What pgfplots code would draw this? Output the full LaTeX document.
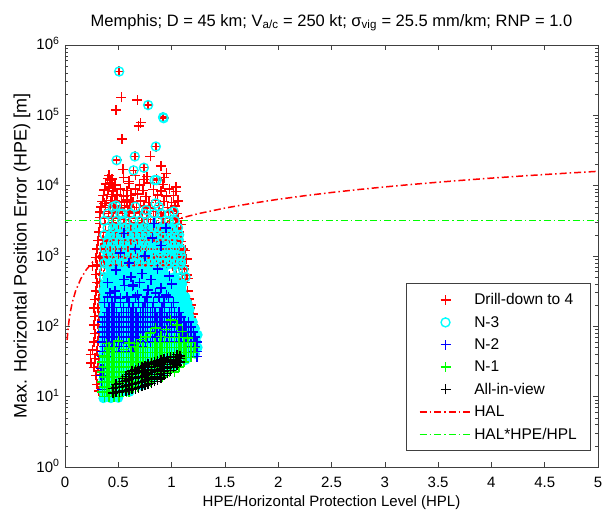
\documentclass[border=0pt]{standalone}
\usepackage{fontspec}
\setmainfont{Liberation Sans}
\usepackage{pgfplots}
\pgfplotsset{compat=1.18}
\definecolor{mred}{rgb}{1,0,0}
\definecolor{mcyan}{rgb}{0,1,1}
\definecolor{mblue}{rgb}{0,0,1}
\definecolor{mgreen}{rgb}{0,1,0}
\definecolor{mblack}{rgb}{0,0,0}
\newcommand\plusmark[1]{\pgfsetstrokecolor{#1}\pgfsetlinewidth{1.5pt}%
  \pgfpathmoveto{\pgfqpoint{-5pt}{0pt}}\pgfpathlineto{\pgfqpoint{5pt}{0pt}}%
  \pgfpathmoveto{\pgfqpoint{0pt}{-5pt}}\pgfpathlineto{\pgfqpoint{0pt}{5pt}}%
  \pgfusepathqstroke}
\pgfdeclareplotmark{rplus}{\plusmark{mred}}
\pgfdeclareplotmark{bplus}{\plusmark{mblue}}
\pgfdeclareplotmark{gplus}{\plusmark{mgreen}}
\pgfdeclareplotmark{kplus}{\plusmark{mblack}}
\pgfdeclareplotmark{copen}{\pgfsetstrokecolor{mcyan}\pgfsetlinewidth{1.4pt}%
  \pgfpathcircle{\pgfpointorigin}{4.5pt}\pgfusepathqstroke}
\pgfdeclareplotmark{cfill}{\pgfsetfillcolor{mcyan}%
  \pgfpathcircle{\pgfpointorigin}{5pt}\pgfusepathqfill}
\pgfplotsset{
  markleg/.style={legend image code/.code={\path[draw=none,fill=none] (0pt,-2pt) rectangle (52pt,2pt); \draw[##1] plot coordinates {(26pt,0pt)};}},
  lineleg/.style={legend image code/.code={\draw[##1] (0pt,0pt) -- (52pt,0pt);}},
}
\begin{document}
\begin{tikzpicture}[x=1pt,y=1pt]
\useasboundingbox (-65,-45) rectangle (540,467);
\begin{axis}[
  at={(0,0)}, anchor=south west,
  scale only axis, width=533pt, height=422pt,
  xmin=0, xmax=5, ymin=1, ymax=1000000, ymode=log,
  xtick={0,0.5,1,1.5,2,2.5,3,3.5,4,4.5,5},
  xticklabels={0,0.5,1,1.5,2,2.5,3,3.5,4,4.5,5},
  ytick={1,10,100,1000,10000,100000,1000000},
  yticklabels={10\textsuperscript{0},10\textsuperscript{1},10\textsuperscript{2},10\textsuperscript{3},10\textsuperscript{4},10\textsuperscript{5},10\textsuperscript{6}},
  tick align=inside,
  major tick length=5pt, minor tick length=3pt,
  axis line style={line width=0.8pt, black!75},
  every tick/.style={black!75, line width=0.6pt},
  tick label style={font=\fontsize{15}{18}\selectfont},
  xticklabel style={anchor=base, yshift=-20pt},
  yticklabel style={anchor=base east, yshift=-5pt, xshift=-2pt},
  xlabel={HPE/Horizontal Protection Level (HPL)},
  ylabel={Max. Horizontal Position Error (HPE) [m]},
  xlabel style={font=\fontsize{15}{18}\selectfont, at={(axis description cs:0.5,0)}, anchor=base, yshift=-39pt},
  ylabel style={font=\fontsize{18}{20}\selectfont, at={(axis description cs:-0.0807,0.5)}, anchor=center},
  title={Memphis; D = 45 km; V\textsubscript{a/c} = 250 kt; σ\textsubscript{vig} = 25.5 mm/km; RNP = 1.0},
  title style={font=\fontsize{16.5}{18}\selectfont, at={(0.5,1)}, anchor=base, yshift=13pt},
  legend style={at={(0.987,0.038)}, anchor=south east, font=\fontsize{15.5}{18}\selectfont, draw=black!75, line width=0.6pt, row sep=6pt, inner xsep=12pt, inner ysep=8pt},
  legend cell align=left,
]
% ---------------- N-3 background (cyan, under the red marks of the mixed zone)
\addplot[forget plot, only marks, mark=cfill] coordinates {
(0.395,741)(0.465,741)(0.535,741)(0.605,741)(0.675,741)(0.745,741)(0.815,741)(0.885,741)(0.955,741)(1.025,741)(1.09,741)
(0.37,912)(0.43,912)(0.50,912)(0.57,912)(0.64,912)(0.71,912)(0.78,912)(0.85,912)(0.92,912)(0.99,912)(1.06,912)(1.10,912)
(0.395,1122)(0.465,1122)(0.535,1122)(0.605,1122)(0.675,1122)(0.745,1122)(0.815,1122)(0.885,1122)(0.955,1122)(1.025,1122)(1.09,1122)
(0.37,1380)(0.43,1380)(0.50,1380)(0.57,1380)(0.64,1380)(0.71,1380)(0.78,1380)(0.85,1380)(0.92,1380)(0.99,1380)(1.06,1380)
(0.395,1698)(0.465,1698)(0.535,1698)(0.605,1698)(0.675,1698)(0.745,1698)(0.815,1698)(0.885,1698)(0.955,1698)(1.025,1698)(1.07,1698)
(0.43,2089)(0.50,2089)(0.57,2089)(0.64,2089)(0.71,2089)(0.78,2089)(0.85,2089)(0.92,2089)(0.99,2089)(1.06,2089)
(0.465,2570)(0.535,2570)(0.605,2570)(0.675,2570)(0.745,2570)(0.815,2570)(0.885,2570)(0.955,2570)(1.025,2570)
};
% ---------------- Drill-down to 4 (red +)
\addplot[only marks, mark=rplus, markleg] coordinates {
(0.508,420000)(0.53,180000)(0.68,166000)(0.78,140000)(0.48,120000)(0.92,94000)(0.925,91000)(0.71,79000)(0.69,71000)(0.534,46000)
(0.852,36000)(0.484,23000)(0.655,26000)(0.80,26000)(0.74,18000)(0.643,16500)(0.546,17000)(0.90,19000)(0.93,13000)(1.04,9500)
(0.86,12000)(0.415,9500)(0.415,14000)(0.44,12500)(0.60,11500)(0.77,13500)(0.95,15000)(0.66,14000)(0.37,5600)(1.02,4300)
(0.40,12600)(0.43,12000)(0.55,13000)(0.74,12300)(0.86,12600)
(0.38,10500)(0.42,10900)(0.47,10200)(0.60,10700)(0.70,10300)(0.80,11000)(0.92,10400)
(0.37,8700)(0.41,9100)(0.45,8400)(0.52,8900)(0.58,8500)(0.66,9000)(0.73,8600)(0.83,8800)(0.90,8400)(0.98,9000)(1.04,8300)
(0.36,7200)(0.40,7500)(0.44,7000)(0.49,7400)(0.55,7100)(0.62,7300)(0.68,7600)(0.76,7000)(0.87,7400)(0.95,7100)(1.02,7300)
(0.35,6000)(0.39,6200)(0.43,5800)(0.47,6100)(0.53,5900)(0.58,6300)(0.64,5900)(0.71,6100)(0.79,5800)(0.85,6200)(0.93,6000)(1.00,5800)(1.06,6100)
(0.34,5000)(0.38,5200)(0.42,4900)(0.46,5100)(0.51,4800)(0.56,5200)(0.61,5000)(0.67,4900)(0.74,5100)(0.80,4800)(0.88,5200)(0.96,4900)(1.03,5100)
(0.33,4200)(0.37,4000)(0.41,4300)(0.45,4100)(0.49,4200)(0.54,4000)(0.59,4300)(0.65,4100)(0.70,4200)(0.77,4000)(0.83,4300)(0.90,4100)(0.97,4200)(1.05,4000)
(0.33,3500)(0.37,3400)(0.41,3600)(0.45,3400)(0.50,3500)(0.55,3300)(0.60,3600)(0.66,3400)(0.72,3500)(0.78,3300)(0.85,3600)(0.92,3400)(0.99,3500)(1.06,3400)
(0.33,2900)(0.38,2800)(0.44,2950)(0.50,2850)(0.56,2900)(0.62,2800)(0.68,2950)(0.74,2850)(0.80,2900)(0.86,2800)(0.92,2950)(0.98,2850)(1.04,2900)(1.09,2800)
(0.32,2200)(0.36,2150)(0.41,2250)(0.47,2150)(0.53,2200)(0.59,2250)(0.65,2150)(0.71,2200)(0.77,2250)(0.83,2150)(0.89,2200)(0.95,2250)(1.01,2150)(1.07,2200)
(0.31,1650)(0.35,1700)(0.39,1620)(0.44,1680)(0.50,1650)(0.56,1700)(0.62,1620)(0.68,1680)(0.74,1650)(0.80,1700)(0.86,1620)(0.92,1680)(0.98,1650)(1.04,1700)(1.09,1620)
(0.30,1250)(0.34,1280)(0.38,1230)(0.42,1270)(0.47,1250)(0.53,1280)(0.59,1230)(0.65,1270)(0.71,1250)(0.77,1280)(0.83,1230)(0.89,1270)(0.95,1250)(1.01,1280)(1.07,1230)(1.11,1260)
(0.29,950)(0.33,980)(0.36,930)(0.39,960)(0.44,950)(0.50,980)(0.56,930)(0.62,960)(0.68,950)(0.74,980)(0.80,930)(0.86,960)(0.92,950)(0.98,980)(1.04,930)(1.10,960)
(0.26,720)(0.30,740)(0.34,710)(0.37,730)(0.41,720)(0.47,740)(0.53,710)(0.59,730)(0.65,720)(0.71,740)(0.77,710)(0.83,730)(0.89,720)(0.95,740)(1.01,710)(1.07,730)(1.12,720)
(0.29,550)(0.33,560)(0.36,540)(0.44,555)(0.56,545)(0.68,555)(0.80,545)(0.92,555)(1.04,545)(1.10,555)(1.14,540)
(0.30,420)(0.33,410)(0.36,425)(1.08,415)(1.13,420)
(0.29,320)(0.33,310)(0.36,318)(1.10,315)(1.15,320)
(0.28,240)(0.32,245)(0.35,235)(1.12,240)(1.16,245)
(0.27,182)(0.31,185)(0.34,178)(1.17,182)
(0.28,138)(0.32,140)(1.18,136)
(0.27,105)(0.31,107)(0.34,103)(1.20,105)
(0.28,79)(0.32,81)
(0.27,60)(0.31,62)(0.34,59)
(0.26,46)(0.30,45)(0.24,40)(0.245,30)
(0.28,35)(0.32,34)
(0.27,26)(0.31,27)(0.34,26)
(0.29,20)(0.33,20.5)
(0.30,15)(0.34,15.5)
(0.32,12)(0.36,11.5)
(1.14,900)(1.13,1200)(1.12,650)(1.15,480)(1.18,200)(1.20,150)
};
\addlegendentry{Drill-down to 4}
% ---------------- N-3 (cyan o), dense part
\addplot[forget plot, only marks, mark=cfill] coordinates {
(0.36,9.5)(0.43,9.5)(0.50,9.6)
(0.36,11.7)(0.395,11.7)(0.465,11.7)(0.535,11.7)(0.605,11.7)
(0.37,14.5)(0.43,14.5)(0.50,14.5)(0.57,14.5)(0.64,14.5)(0.71,14.5)
(0.36,17.8)(0.395,17.8)(0.465,17.8)(0.535,17.8)(0.605,17.8)(0.675,17.8)(0.745,17.8)(0.815,17.8)
(0.37,21.9)(0.43,21.9)(0.50,21.9)(0.57,21.9)(0.64,21.9)(0.71,21.9)(0.78,21.9)(0.85,21.9)(0.92,21.9)
(0.36,26.9)(0.395,26.9)(0.465,26.9)(0.535,26.9)(0.605,26.9)(0.675,26.9)(0.745,26.9)(0.815,26.9)(0.885,26.9)(0.955,26.9)(1.025,26.9)
(0.37,33.1)(0.43,33.1)(0.50,33.1)(0.57,33.1)(0.64,33.1)(0.71,33.1)(0.78,33.1)(0.85,33.1)(0.92,33.1)(0.99,33.1)(1.06,33.1)(1.13,33.1)
(0.36,40.7)(0.395,40.7)(0.465,40.7)(0.535,40.7)(0.605,40.7)(0.675,40.7)(0.745,40.7)(0.815,40.7)(0.885,40.7)(0.955,40.7)(1.025,40.7)(1.095,40.7)(1.165,40.7)(1.22,40.7)
(0.37,50.1)(0.43,50.1)(0.50,50.1)(0.57,50.1)(0.64,50.1)(0.71,50.1)(0.78,50.1)(0.85,50.1)(0.92,50.1)(0.99,50.1)(1.06,50.1)(1.13,50.1)(1.20,50.1)(1.245,50.1)
(0.36,61.7)(0.395,61.7)(0.465,61.7)(0.535,61.7)(0.605,61.7)(0.675,61.7)(0.745,61.7)(0.815,61.7)(0.885,61.7)(0.955,61.7)(1.025,61.7)(1.095,61.7)(1.165,61.7)(1.23,61.7)
(0.37,75.9)(0.43,75.9)(0.50,75.9)(0.57,75.9)(0.64,75.9)(0.71,75.9)(0.78,75.9)(0.85,75.9)(0.92,75.9)(0.99,75.9)(1.06,75.9)(1.13,75.9)(1.20,75.9)(1.245,75.9)
(0.36,93.3)(0.395,93.3)(0.465,93.3)(0.535,93.3)(0.605,93.3)(0.675,93.3)(0.745,93.3)(0.815,93.3)(0.885,93.3)(0.955,93.3)(1.025,93.3)(1.095,93.3)(1.165,93.3)(1.22,93.3)
(0.37,115)(0.43,115)(0.50,115)(0.57,115)(0.64,115)(0.71,115)(0.78,115)(0.85,115)(0.92,115)(0.99,115)(1.06,115)(1.13,115)(1.20,115)
(0.36,141)(0.395,141)(0.465,141)(0.535,141)(0.605,141)(0.675,141)(0.745,141)(0.815,141)(0.885,141)(0.955,141)(1.025,141)(1.095,141)(1.165,141)
(0.37,174)(0.43,174)(0.50,174)(0.57,174)(0.64,174)(0.71,174)(0.78,174)(0.85,174)(0.92,174)(0.99,174)(1.06,174)(1.13,174)(1.17,174)
(0.36,214)(0.395,214)(0.465,214)(0.535,214)(0.605,214)(0.675,214)(0.745,214)(0.815,214)(0.885,214)(0.955,214)(1.025,214)(1.095,214)(1.15,214)
(0.37,263)(0.43,263)(0.50,263)(0.57,263)(0.64,263)(0.71,263)(0.78,263)(0.85,263)(0.92,263)(0.99,263)(1.06,263)(1.13,263)
(0.36,324)(0.395,324)(0.465,324)(0.535,324)(0.605,324)(0.675,324)(0.745,324)(0.815,324)(0.885,324)(0.955,324)(1.025,324)(1.095,324)
(0.37,398)(0.43,398)(0.50,398)(0.57,398)(0.64,398)(0.71,398)(0.78,398)(0.85,398)(0.92,398)(0.99,398)(1.06,398)(1.10,398)
(0.395,490)(0.465,490)(0.535,490)(0.605,490)(0.675,490)(0.745,490)(0.815,490)(0.885,490)(0.955,490)(1.025,490)
(0.43,603)(0.50,603)(0.57,603)(0.64,603)(0.71,603)(0.78,603)(0.85,603)(0.92,603)
};
% ---------------- N-3 (cyan o), open circles
\addplot[only marks, mark=copen, markleg] coordinates {
(0.508,420000)(0.78,140000)(0.92,94000)(0.925,91000)(0.852,36000)(0.484,23000)(0.655,26000)(0.74,18000)(0.643,16500)(0.86,12000)
(1.02,4300)(0.84,12000)(0.477,5200)(0.54,4000)(0.76,4500)(0.85,5600)(0.90,4000)
(0.37,501)(1.03,501)(1.085,501)(1.13,501)
(0.37,631)(1.00,631)(1.06,631)(1.11,631)
(0.37,794)(0.425,794)(0.48,794)(0.535,794)(0.59,794)(0.645,794)(0.70,794)(0.755,794)(0.81,794)(0.865,794)(0.92,794)(0.975,794)(1.03,794)(1.085,794)
(0.40,1000)(0.45,1000)(0.51,1000)(0.56,1000)(0.62,1000)(0.67,1000)(0.73,1000)(0.78,1000)(0.84,1000)(0.89,1000)(0.95,1000)(1.00,1000)(1.06,1000)(1.09,1000)
(0.37,1259)(0.425,1259)(0.48,1259)(0.535,1259)(0.59,1259)(0.645,1259)(0.70,1259)(0.755,1259)(0.81,1259)(0.865,1259)(0.92,1259)(0.975,1259)(1.03,1259)(1.085,1259)
(0.40,1585)(0.45,1585)(0.51,1585)(0.56,1585)(0.62,1585)(0.67,1585)(0.73,1585)(0.78,1585)(0.84,1585)(0.89,1585)(0.95,1585)(1.00,1585)(1.06,1585)
(0.37,1995)(0.425,1995)(0.48,1995)(0.535,1995)(0.59,1995)(0.645,1995)(0.70,1995)(0.755,1995)(0.81,1995)(0.865,1995)(0.92,1995)(0.975,1995)(1.03,1995)(1.07,1995)
(0.40,2512)(0.45,2512)(0.51,2512)(0.56,2512)(0.62,2512)(0.67,2512)(0.73,2512)(0.78,2512)(0.84,2512)(0.89,2512)(0.95,2512)(1.00,2512)(1.06,2512)
(0.37,3162)(0.48,3162)(0.535,3162)(0.645,3162)(0.70,3162)(0.81,3162)(0.865,3162)(0.975,3162)(1.03,3162)
(0.40,3981)(0.52,3981)(0.61,3981)(0.75,3981)(0.84,3981)(0.98,3981)
(0.45,5012)(0.66,5012)(0.88,5012)
};
\addlegendentry{N-3}
% ---------------- N-2 (blue +)
\addplot[only marks, mark=bplus, markleg] coordinates {
(0.47,316)(0.555,460)(0.634,370)(0.805,460)(0.90,350)(0.72,560)(0.68,280)(0.52,250)(0.42,300)(0.85,300)
(0.95,280)(0.60,800)(0.75,1000)(0.555,2100)(0.836,2900)(0.946,2500)(0.66,1260)(0.90,1400)(1.00,400)(0.78,330)
(0.62,500)(0.48,630)(0.87,650)(0.40,420)(0.56,380)(0.70,420)(0.98,520)(0.82,1800)(0.52,1100)(0.64,390)
(0.40,263)(0.47,263)(0.58,263)(0.66,263)(0.77,263)(0.88,263)(0.97,263)
(0.37,219)(0.44,219)(0.52,219)(0.60,219)(0.69,219)(0.75,219)(0.83,219)(0.93,219)(1.02,219)
(0.415,186)(0.46,186)(0.55,186)(0.595,186)(0.64,186)(0.73,186)(0.775,186)(0.82,186)(0.91,186)(1.00,186)
(0.395,158)(0.44,158)(0.485,158)(0.53,158)(0.575,158)(0.62,158)(0.665,158)(0.71,158)(0.755,158)(0.80,158)(0.845,158)(0.89,158)(0.935,158)(0.98,158)(1.025,158)(1.07,158)
(0.37,135)(0.415,135)(0.46,135)(0.505,135)(0.55,135)(0.595,135)(0.64,135)(0.685,135)(0.73,135)(0.775,135)(0.82,135)(0.865,135)(0.91,135)(0.955,135)(1.00,135)(1.045,135)(1.09,135)
(0.35,115)(0.395,115)(0.44,115)(0.485,115)(0.53,115)(0.575,115)(0.62,115)(0.665,115)(0.71,115)(0.755,115)(0.80,115)(0.845,115)(0.89,115)(0.935,115)(0.98,115)(1.025,115)(1.07,115)(1.115,115)(1.16,115)
(0.37,97.7)(0.415,97.7)(0.46,97.7)(0.505,97.7)(0.55,97.7)(0.595,97.7)(0.64,97.7)(0.685,97.7)(0.73,97.7)(0.775,97.7)(0.82,97.7)(0.865,97.7)(0.91,97.7)(0.955,97.7)(1.00,97.7)(1.045,97.7)(1.09,97.7)(1.135,97.7)(1.18,97.7)
(0.35,83.2)(0.395,83.2)(0.44,83.2)(0.485,83.2)(0.53,83.2)(0.575,83.2)(0.62,83.2)(0.665,83.2)(0.71,83.2)(0.755,83.2)(0.80,83.2)(0.845,83.2)(0.89,83.2)(0.935,83.2)(0.98,83.2)(1.025,83.2)(1.07,83.2)(1.115,83.2)(1.16,83.2)(1.205,83.2)
(0.37,70.8)(0.415,70.8)(0.46,70.8)(0.505,70.8)(0.55,70.8)(0.595,70.8)(0.64,70.8)(0.685,70.8)(0.73,70.8)(0.775,70.8)(0.82,70.8)(0.865,70.8)(0.91,70.8)(0.955,70.8)(1.00,70.8)(1.045,70.8)(1.09,70.8)(1.135,70.8)(1.18,70.8)(1.22,70.8)
(0.35,60.3)(0.395,60.3)(0.44,60.3)(0.485,60.3)(0.53,60.3)(0.575,60.3)(0.62,60.3)(0.665,60.3)(0.71,60.3)(0.755,60.3)(0.80,60.3)(0.845,60.3)(0.89,60.3)(0.935,60.3)(0.98,60.3)(1.025,60.3)(1.07,60.3)(1.115,60.3)(1.16,60.3)(1.205,60.3)(1.24,60.3)
(0.37,51.3)(0.415,51.3)(0.46,51.3)(0.505,51.3)(0.55,51.3)(0.595,51.3)(0.64,51.3)(0.685,51.3)(0.73,51.3)(1.18,51.3)(1.22,51.3)
(0.35,43.7)(0.395,43.7)(0.44,43.7)(0.485,43.7)(0.53,43.7)(0.575,43.7)(0.62,43.7)(1.205,43.7)(1.24,43.7)
(0.35,37.2)(0.37,37.2)(0.415,37.2)(1.24,37.2)
(0.35,31.6)(0.37,31.6)(0.34,25.1)(0.36,25.1)(0.34,20)(0.36,20)(0.345,15.8)(0.35,12.6)
};
\addlegendentry{N-2}
% ---------------- N-1 (green +)
\addplot[only marks, mark=gplus, markleg] coordinates {
(0.39,57)(0.415,48)(0.37,38)(0.46,50)(0.55,47)(0.65,52)(0.67,57)(0.71,65)(0.60,58)(0.76,70)
(0.80,80)(0.85,95)(0.90,72)(0.95,90)(0.99,123)(1.05,105)(1.10,85)(1.15,68)(0.50,62)
(0.37,10)(0.415,10)(0.46,10)(0.505,10)
(0.35,11.7)(0.395,11.7)(0.44,11.7)(0.485,11.7)(0.53,11.7)(0.575,11.7)(0.60,11.7)
(0.37,13.8)(0.415,13.8)(0.46,13.8)(0.505,13.8)(0.55,13.8)(0.595,13.8)(0.64,13.8)(0.685,13.8)
(0.35,16.2)(0.395,16.2)(0.44,16.2)(0.485,16.2)(0.53,16.2)(0.575,16.2)(0.62,16.2)(0.665,16.2)(0.71,16.2)(0.755,16.2)(0.80,16.2)
(0.37,19.1)(0.415,19.1)(0.46,19.1)(0.505,19.1)(0.55,19.1)(0.595,19.1)(0.64,19.1)(0.685,19.1)(0.73,19.1)(0.775,19.1)(0.82,19.1)(0.865,19.1)(0.91,19.1)
(0.35,22.4)(0.395,22.4)(0.44,22.4)(0.485,22.4)(0.53,22.4)(0.575,22.4)(0.62,22.4)(0.665,22.4)(0.71,22.4)(0.755,22.4)(0.80,22.4)(0.845,22.4)(0.89,22.4)(0.935,22.4)(0.98,22.4)(1.025,22.4)
(0.37,26.3)(0.415,26.3)(0.46,26.3)(0.505,26.3)(0.55,26.3)(0.595,26.3)(0.64,26.3)(0.685,26.3)(0.73,26.3)(0.775,26.3)(0.82,26.3)(0.865,26.3)(0.91,26.3)(0.955,26.3)(1.00,26.3)(1.045,26.3)(1.07,26.3)
(0.35,30.9)(0.395,30.9)(0.44,30.9)(0.485,30.9)(0.53,30.9)(0.575,30.9)(0.62,30.9)(0.665,30.9)(0.71,30.9)(0.755,30.9)(0.80,30.9)(0.845,30.9)(0.89,30.9)(0.935,30.9)(0.98,30.9)(1.025,30.9)(1.07,30.9)(1.115,30.9)
(0.37,36.3)(0.415,36.3)(0.46,36.3)(0.505,36.3)(0.55,36.3)(0.595,36.3)(0.64,36.3)(0.685,36.3)(0.73,36.3)(0.775,36.3)(0.82,36.3)(0.865,36.3)(0.91,36.3)(0.955,36.3)(1.00,36.3)(1.045,36.3)(1.09,36.3)(1.135,36.3)(1.18,36.3)
(0.395,42.7)(0.44,42.7)(0.485,42.7)(0.53,42.7)(0.575,42.7)(0.62,42.7)(0.665,42.7)(0.71,42.7)(0.755,42.7)(0.80,42.7)(0.845,42.7)(0.89,42.7)(0.935,42.7)(0.98,42.7)(1.025,42.7)(1.07,42.7)(1.115,42.7)(1.16,42.7)(1.205,42.7)
(0.415,50.1)(0.46,50.1)(0.685,50.1)(0.73,50.1)(0.775,50.1)(0.82,50.1)(0.865,50.1)(0.91,50.1)(0.955,50.1)(1.00,50.1)(1.045,50.1)(1.09,50.1)(1.135,50.1)(1.18,50.1)(1.22,50.1)
(0.845,58.9)(0.89,58.9)(0.935,58.9)(0.98,58.9)(1.025,58.9)(1.07,58.9)(1.115,58.9)(1.16,58.9)
(0.98,69.2)(1.025,69.2)(1.07,69.2)
};
\addlegendentry{N-1}
% ---------------- All-in-view (black +)
\addplot[only marks, mark=kplus, markleg] coordinates {
(0.45,11.2)(0.45,13)
(0.48,11.5)(0.48,13.5)(0.48,15)
(0.51,11.6)(0.51,13.5)(0.51,15.5)
(0.54,12)(0.54,14)(0.54,16.5)(0.54,18)
(0.57,12.2)(0.57,14.5)(0.57,17)(0.57,19.5)
(0.60,12.5)(0.60,15)(0.60,17.5)(0.60,20.5)
(0.63,12.8)(0.63,15)(0.63,18)(0.63,21)(0.63,23)
(0.66,13)(0.66,15.5)(0.66,18.5)(0.66,21.5)(0.66,24)
(0.69,13.5)(0.69,16)(0.69,19)(0.69,22)(0.69,25.5)
(0.72,14)(0.72,16.5)(0.72,19.5)(0.72,23)(0.72,26.5)
(0.75,14.5)(0.75,17)(0.75,20)(0.75,23.5)(0.75,27.5)
(0.78,15)(0.78,17.5)(0.78,21)(0.78,24.5)(0.78,29)
(0.81,15.5)(0.81,18.5)(0.81,22)(0.81,26)(0.81,30)
(0.84,16.5)(0.84,19.5)(0.84,23)(0.84,27)(0.84,31)
(0.87,17.5)(0.87,20.5)(0.87,24)(0.87,28)(0.87,32)
(0.90,18.5)(0.90,21.5)(0.90,25)(0.90,29)(0.90,33.5)
(0.93,20)(0.93,23)(0.93,26.5)(0.93,30.5)(0.93,34.5)
(0.96,21.5)(0.96,25)(0.96,28.5)(0.96,32)(0.96,36)
(0.99,23.5)(0.99,27)(0.99,30.5)(0.99,34)(0.99,37)
(1.02,26)(1.02,29.5)(1.02,33)(1.02,37)
(1.05,28)(1.05,32)(1.05,36)(1.05,39.5)
(1.08,31)(1.08,35)(1.08,38)
};
\addlegendentry{All-in-view}
% ---------------- HAL (red dash-dot)
\addplot[draw=mred, line width=1.5pt, dash pattern=on 7pt off 3pt on 1.5pt off 3pt, lineleg] coordinates {
(0.02,64)(0.03,96)(0.04,128)(0.05,160)(0.07,224)(0.1,320)(0.15,480)(0.2,640)(0.3,960)(0.4,1280)(0.5,1600)(0.6,1920)(0.7,2240)(0.85,2720)
(1,3200)(1.25,4000)(1.5,4800)(1.75,5600)(2,6400)(2.25,7200)(2.5,8000)(2.75,8800)(3,9600)(3.25,10400)(3.5,11200)(3.75,12000)(4,12800)(4.25,13600)(4.5,14400)(4.75,15200)(5,16000)
};
\addlegendentry{HAL}
% ---------------- HAL*HPE/HPL (green dash-dot)
\addplot[draw=mgreen, line width=1.5pt, dash pattern=on 7pt off 3pt on 1.5pt off 3pt, lineleg] coordinates {
(0,3200)(5,3200)
};
\addlegendentry{HAL*HPE/HPL}
\end{axis}
\end{tikzpicture}
\end{document}
